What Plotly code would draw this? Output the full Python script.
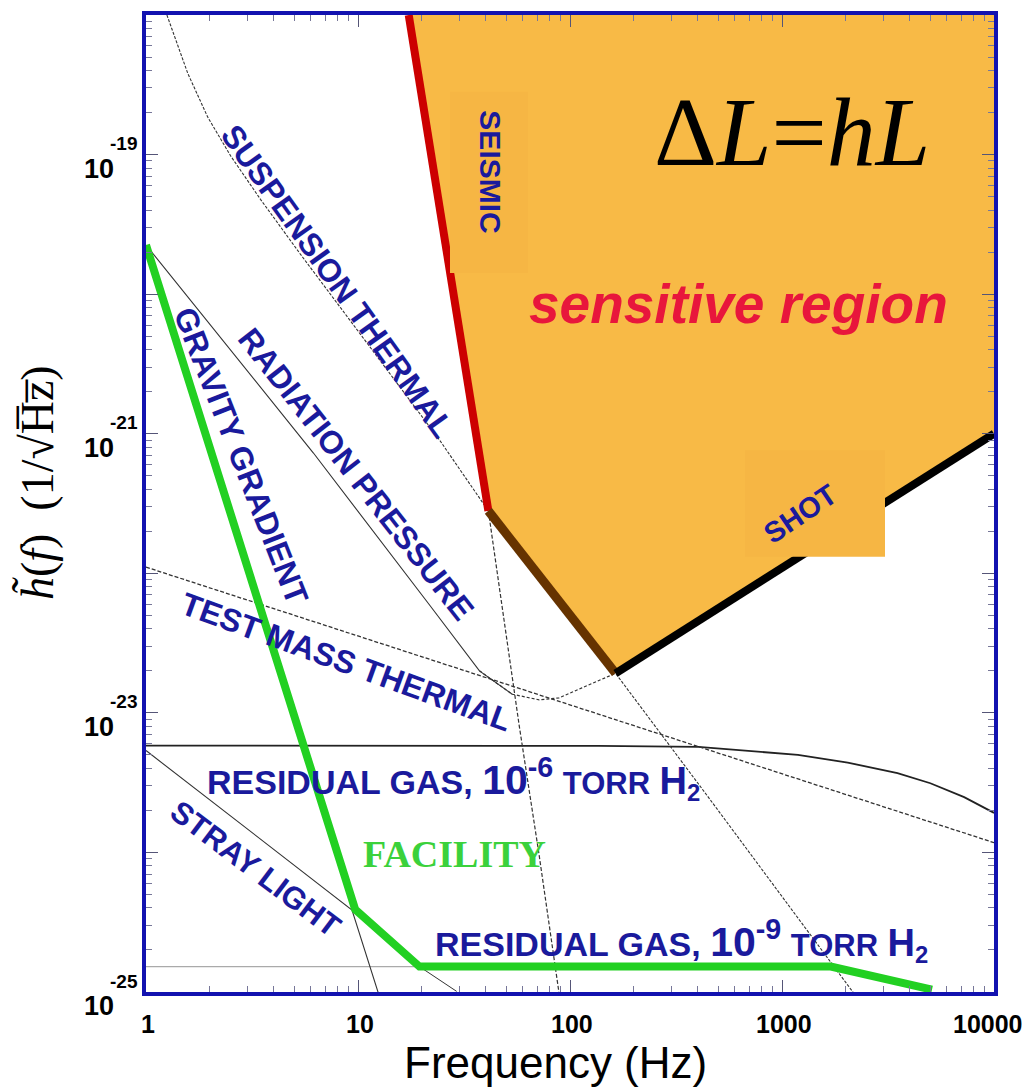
import math
import plotly.graph_objects as go

# ---------------- data (frequency in Hz, strain noise in 1/sqrt(Hz)) ----------------
sens_f = [17.35, 41.2, 164.0, 10000, 10000, 17.35]
sens_h = [1e-18, 2.8e-22, 1.92e-23, 1.0e-21, 1e-18, 1e-18]

seismic_f = [17.35, 41.2]
seismic_h = [1e-18, 2.8e-22]
seismic_tail_f = [41.2, 57.6, 71.5, 88.8]
seismic_tail_h = [2.8e-22, 8.1e-24, 9.6e-25, 9.8e-26]

susp_f = [1.255, 1.575, 1.955, 2.506, 3.467, 5.34, 9.17, 24.3, 41.2, 164.0, 449, 2180]
susp_h = [1e-18, 3.81e-19, 1.855e-19, 9.80e-20, 4.78e-20, 1.94e-20, 6.49e-21, 8.97e-22,
          2.8e-22, 1.92e-23, 2.49e-24, 9.8e-26]
brown_f = [41.2, 164.0]
brown_h = [2.8e-22, 1.92e-23]

shot_f = [164.0, 10000]
shot_h = [1.92e-23, 1.0e-21]

rad_f = [1.0, 6.15, 21.8, 37.4, 53.4]
rad_h = [2.25e-20, 7.3e-22, 5.9e-23, 2.0e-23, 1.36e-23]
readout_f = [37.4, 53.4, 71.5, 88.8, 113.8, 164.0]
readout_h = [2.0e-23, 1.36e-23, 1.24e-23, 1.28e-23, 1.51e-23, 1.92e-23]

tm_f = [1.0, 10000]
tm_h = [1.107e-22, 1.175e-24]

gas6_f = [1.0, 136.8, 403, 1189, 2042, 3505, 5010, 7230, 10000]
gas6_h = [5.83e-24, 5.8e-24, 5.7e-24, 5.0e-24, 4.4e-24, 3.7e-24, 3.13e-24, 2.49e-24, 1.92e-24]

gas9_f = [1.0, 1700]
gas9_h = [1.52e-25, 1.52e-25]

stray_f = [1.0, 9.37, 12.7]
stray_h = [5.37e-24, 3.87e-25, 9.0e-26]

fac_f = [1.0, 9.7, 19.5, 1700, 5100]
fac_h = [2.25e-20, 3.9e-25, 1.52e-25, 1.52e-25, 1.04e-25]
fac_tail_f = [19.5, 29.2]
fac_tail_h = [1.52e-25, 1.01e-25]

x_tick_vals = [1, 10, 100, 1000, 10000]
x_tick_text = ["1", "10", "100", "1000", "10000"]
y_exponents = [-25, -24, -23, -22, -21, -20, -19, -18]
y_labeled = [-25, -23, -21, -19]

# ---------------- styling ----------------
ORANGE = "#F8BA46"
ORANGE_DARK = "#F6B644"
BLUE_TXT = "#1A1A9C"
FRAME = "#1212B0"
THIN = "#333333"

# the page body has an 8px margin; place the plot area at the reference pixels
BODY = 8
W, H = 1030 - BODY, 1087 - BODY
L_PX, R_PX, T_PX, B_PX = 146, 994, 11, 992   # page pixels of the plot area


def xp(px):
    return (px - L_PX) / (R_PX - L_PX)


def yp(py):
    return (B_PX - py) / (B_PX - T_PX)


fig = go.Figure()


def line(f, h, color=THIN, width=1.0, dash="solid"):
    fig.add_trace(go.Scatter(x=f, y=h, mode="lines",
                             line=dict(color=color, width=width, dash=dash),
                             hoverinfo="skip", showlegend=False))


# sensitive region fill
fig.add_trace(go.Scatter(x=sens_f, y=sens_h, mode="lines", fill="toself",
                         fillcolor=ORANGE, line=dict(width=0, color=ORANGE),
                         hoverinfo="skip", showlegend=False))

# thin noise curves
line(gas9_f, gas9_h, color="#AAAAAA", width=1.2)
line(gas6_f, gas6_h, color="#222222", width=1.8)
line(tm_f, tm_h, color=THIN, width=1.3, dash="4px,2px")
line(susp_f, susp_h, color=THIN, width=1.1, dash="3px,1.5px")
line(rad_f, rad_h, color=THIN, width=1.1)
line(readout_f, readout_h, color=THIN, width=1.2, dash="3px,2px")
line(seismic_tail_f, seismic_tail_h, color=THIN, width=1.2, dash="4px,2px")
line(stray_f, stray_h, color=THIN, width=1.1)
line(fac_tail_f, fac_tail_h, color=THIN, width=1.0)

# facility (green)
line(fac_f, fac_h, color="#22D022", width=8)

# sensitive region boundaries
line(seismic_f, seismic_h, color="#CC0000", width=8)
line(brown_f, brown_h, color="#663300", width=9)
line(shot_f, shot_h, color="#000000", width=8)

# minor tick positions
minor_x = [k * 10 ** e for e in range(0, 4) for k in range(2, 10)]
minor_y = [k * 10.0 ** e for e in range(-25, -18) for k in range(2, 10)]

fig.update_layout(
    width=W, height=H,
    margin=dict(l=L_PX - BODY, r=W - (R_PX - BODY), t=T_PX - BODY, b=H - (B_PX - BODY)),
    paper_bgcolor="white", plot_bgcolor="white",
    xaxis=dict(type="log", range=[0, 4], showgrid=False, zeroline=False,
               showline=True, linecolor=FRAME, linewidth=3.5, mirror="allticks",
               ticks="inside", ticklen=12, tickwidth=1, tickcolor="#555577",
               tickvals=x_tick_vals, showticklabels=False,
               minor=dict(tickmode="array", tickvals=minor_x, ticks="inside",
                          ticklen=6, tickcolor="#777799", showgrid=False)),
    yaxis=dict(type="log", range=[-25, -18], showgrid=False, zeroline=False,
               showline=True, linecolor=FRAME, linewidth=3.5, mirror="allticks",
               ticks="inside", ticklen=12, tickwidth=1, tickcolor="#555577",
               tickvals=[10.0 ** e for e in y_exponents], showticklabels=False,
               minor=dict(tickmode="array", tickvals=minor_y, ticks="inside",
                          ticklen=6, tickcolor="#777799", showgrid=False)),
)

# tick labels, placed through the axes' own scales
TICKFONT = dict(family="Liberation Sans", color="black", weight="bold")
for v, t in zip(x_tick_vals, x_tick_text):
    last = v == x_tick_vals[-1]
    fig.add_annotation(text=t, x=math.log10(v), xref="x", y=0, yref="paper",
                       xanchor="right" if last else "center", yanchor="top",
                       xshift=31 if last else 2, yshift=-16, showarrow=False,
                       font=dict(size=25, **TICKFONT))
for e in y_labeled:
    fig.add_annotation(text="10", x=0, xref="paper", y=e, yref="y",
                       xanchor="right", yanchor="middle", xshift=-30, yshift=-14,
                       showarrow=False, font=dict(size=27, **TICKFONT))
    fig.add_annotation(text="%d" % e, x=0, xref="paper", y=e, yref="y",
                       xanchor="left", yanchor="middle", xshift=-38, yshift=11,
                       showarrow=False, font=dict(size=19, **TICKFONT))

# faint boxes behind labels (as in the original artwork)
for (x0, y0, x1, y1) in [(450, 88, 528, 270), (745, 448, 885, 555)]:
    fig.add_shape(type="rect", xref="paper", yref="paper",
                  x0=xp(x0), x1=xp(x1), y0=yp(y1), y1=yp(y0),
                  fillcolor=ORANGE_DARK, line=dict(width=0), layer="above")


def label(text, px, py, angle=0, size=28, color=BLUE_TXT, family="Liberation Sans",
          xanchor="center", yanchor="middle"):
    fig.add_annotation(text=text, x=xp(px), y=yp(py), xref="paper", yref="paper",
                       showarrow=False, textangle=angle, xanchor=xanchor, yanchor=yanchor,
                       font=dict(family=family, size=size, color=color))


label("<b>SUSPENSION THERMAL</b>", 337, 278, angle=54.5, size=32)
label("<b>RADIATION PRESSURE</b>", 356, 472, angle=52, size=32)
label("<b>GRAVITY GRADIENT</b>", 241, 454, angle=68.6, size=32)
label("<b>TEST MASS THERMAL</b>", 346, 661, angle=20, size=32)
label("<b>STRAY LIGHT</b>", 255, 868, angle=37, size=31)
label("<b>SEISMIC</b>", 491, 168, angle=90, size=30)
label("<b>SHOT</b>", 800, 512, angle=-34, size=29)

res_tpl = ("<b>RESIDUAL GAS, <span style='font-size:41px'>10<sup>%s</sup></span> "
           "<span style='font-size:31px'>TORR</span> "
           "<span style='font-size:38px'>H</span><sub>2</sub></b>")
label(res_tpl % "-6", 205, 778, size=34, xanchor="left")
label(res_tpl % "-9", 433, 940, size=34, xanchor="left")

label("<b>FACILITY</b>", 454, 853, size=38, color="#3BD13B", family="Liberation Serif")
label("<b><i>sensitive region</i></b>", 738, 301, size=55, color="#E8163C")
label("Δ<i>L</i>=<i>hL</i>", 792, 128, size=98, color="black", family="Liberation Serif")

label("Frequency (Hz)", 555, 1063, size=44, color="black")
label("<i>h\u0303</i>(<i>f</i>)\u2002(1/\u221aH\u0305z\u0305)", 37, 480, angle=-90, size=46,
      color="black", family="Liberation Serif")

fig.write_html("out.html")
